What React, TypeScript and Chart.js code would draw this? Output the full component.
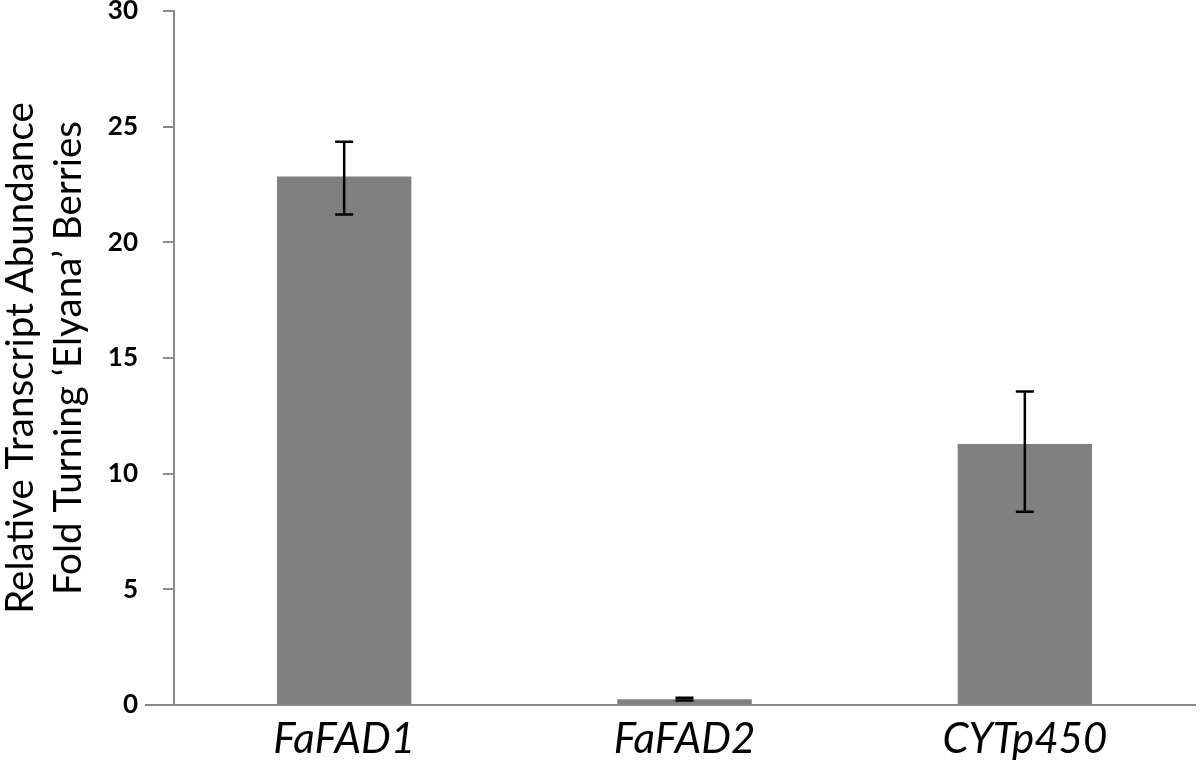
import React, { useEffect, useRef } from "react";
import { Chart, registerables } from "chart.js";

Chart.register(...registerables);

const categories = ["FaFAD1", "FaFAD2", "CYTp450"];
const values = [22.85, 0.25, 11.28];
const errorHigh = [24.35, 0.31, 13.55];
const errorLow = [21.2, 0.19, 8.35];
const yTitleLines = ["Relative Transcript Abundance", "Fold Turning \u2018Elyana\u2019 Berries"];
const yMin = 0;
const yMax = 30;
const yStep = 5;

const AXIS_COLOR = "#8a8a8a";

const errorBarPlugin = {
  id: "errorBars",
  afterDatasetsDraw(chart: any) {
    const ctx = chart.ctx;
    const meta = chart.getDatasetMeta(0);
    const yScale = chart.scales.y;
    ctx.save();
    ctx.strokeStyle = "#000";
    ctx.lineWidth = 2.5;
    meta.data.forEach((bar: any, i: number) => {
      const x = bar.x;
      const yHi = yScale.getPixelForValue(errorHigh[i]);
      const yLo = yScale.getPixelForValue(errorLow[i]);
      const cap = 9;
      ctx.beginPath();
      ctx.moveTo(x, yHi);
      ctx.lineTo(x, yLo);
      ctx.moveTo(x - cap, yHi);
      ctx.lineTo(x + cap, yHi);
      ctx.moveTo(x - cap, yLo);
      ctx.lineTo(x + cap, yLo);
      ctx.stroke();
    });
    ctx.restore();
  },
};

const decorPlugin = {
  id: "decor",
  afterDraw(chart: any) {
    const ctx = chart.ctx;
    const area = chart.chartArea;
    ctx.save();
    // x-axis line extension to the left of the y axis
    ctx.strokeStyle = AXIS_COLOR;
    ctx.lineWidth = 2;
    ctx.beginPath();
    ctx.moveTo(145, area.bottom);
    ctx.lineTo(area.left, area.bottom);
    ctx.stroke();
    // y-axis title (two lines, rotated)
    ctx.fillStyle = "#000";
    ctx.font = "38.5px Lato";
    ctx.textAlign = "center";
    ctx.textBaseline = "alphabetic";
    const cy = (area.top + area.bottom) / 2;
    const baselines = [33, 81];
    yTitleLines.forEach((line, i) => {
      ctx.save();
      ctx.translate(baselines[i], cy);
      ctx.rotate(-Math.PI / 2);
      ctx.fillText(line, 0, 0);
      ctx.restore();
    });
    ctx.restore();
  },
};

export default function App() {
  const canvasRef = useRef<HTMLCanvasElement | null>(null);

  useEffect(() => {
    if (!canvasRef.current) return;
    const chart = new Chart(canvasRef.current, {
      type: "bar",
      data: {
        labels: categories,
        datasets: [
          {
            data: values,
            backgroundColor: "#808080",
            borderWidth: 0,
            barPercentage: 0.395,
            categoryPercentage: 1,
          },
        ],
      },
      options: {
        animation: false,
        responsive: true,
        maintainAspectRatio: false,
        layout: { padding: { top: 11, right: 5, left: 0, bottom: 0 } },
        plugins: {
          legend: { display: false },
          tooltip: { enabled: false },
          title: { display: false },
        },
        scales: {
          x: {
            type: "category",
            offset: true,
            grid: { display: false, drawTicks: false },
            border: { display: true, color: AXIS_COLOR, width: 2 },
            ticks: {
              color: "#000",
              font: { family: "Lato", size: 42, style: "italic" },
              padding: 9,
              maxRotation: 0,
              autoSkip: false,
            },
            afterFit(scale: any) {
              scale.height = 60;
              scale.paddingLeft = 0;
              scale.paddingRight = 0;
            },
          },
          y: {
            type: "linear",
            min: yMin,
            max: yMax,
            grid: {
              display: true,
              drawOnChartArea: false,
              drawTicks: true,
              tickLength: 11,
              color: AXIS_COLOR,
              lineWidth: 2,
            },
            border: { display: true, color: AXIS_COLOR, width: 2 },
            ticks: {
              stepSize: yStep,
              color: "#000",
              font: { family: "Lato", size: 26, weight: "bold" },
              padding: 25,
            },
            afterFit(scale: any) {
              scale.width = 174;
              scale.paddingTop = 0;
              scale.paddingBottom = 0;
            },
          },
        },
      },
      plugins: [errorBarPlugin, decorPlugin],
    });
    return () => chart.destroy();
  }, []);

  return (
    <div style={{ position: "fixed", left: 0, top: 0, width: 1200, height: 765, background: "#fff" }}>
      <canvas ref={canvasRef} />
    </div>
  );
}
